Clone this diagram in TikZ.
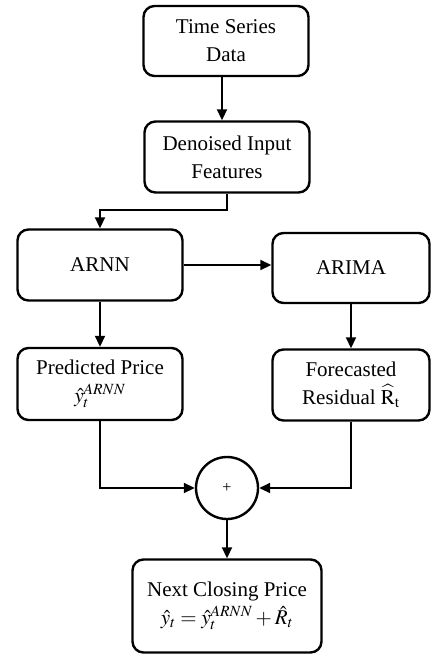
\documentclass[tikz,border=0pt]{standalone}
\usepackage{mathptmx}
\usepackage{fontspec}
\setmainfont{Liberation Serif}
\usetikzlibrary{arrows.meta}
\begin{document}
\begin{tikzpicture}[x=1pt,y=-1pt,
  box/.style={draw, line width=2.4pt, rounded corners=11pt, align=center,
    font=\fontsize{21}{28}\selectfont, inner sep=2pt},
  conn/.style={line width=1.8pt, -{Triangle[length=11pt,width=10pt]}},
  plain/.style={line width=1.8pt}]
\useasboundingbox (0,0) rectangle (432,656);
\node[box, minimum width=165pt, minimum height=70pt] (ts) at (226,41) {Time Series\\Data};
\node[box, minimum width=165pt, minimum height=71pt] (dn) at (227,157) {Denoised Input\\Features};
\node[box, minimum width=165pt, minimum height=71pt] (arnn) at (100,265) {ARNN};
\node[box, minimum width=157pt, minimum height=70pt] (arima) at (351,268) {ARIMA};
\node[box, minimum width=165pt, minimum height=72pt] (pred) at (100,384) {Predicted Price\\$\hat{y}_t^{ARNN}$};
\node[box, minimum width=157pt, minimum height=71pt] (fc) at (351,385) {Forecasted\\Residual $\widehat{\mathrm{R}}_{\mathrm{t}}$};
\node[draw, circle, line width=2.4pt, minimum size=62pt, inner sep=0pt, font=\fontsize{16}{18}\selectfont] (sum) at (227,488) {+};
\node[box, minimum width=189pt, minimum height=93pt] (out) at (227,606) {Next Closing Price\\$\hat{y}_t = \hat{y}_t^{ARNN} + \hat{R}_t$};
\coordinate (bend) at (227,210);
\draw[conn] (ts.south -| 222,0) -- (dn.north -| 222,0);
\draw[conn] (dn.south) -- (bend) -| (arnn.north);
\draw[conn] (arnn.east) -- (arnn.east -| arima.west);
\draw[conn] (arnn.south) -- (pred.north);
\draw[conn] (arima.south) -- (fc.north);
\draw[conn] (pred.south) |- (sum.west);
\draw[conn] (fc.south) |- (sum.east);
\draw[conn] (sum.south) -- (out.north);
\end{tikzpicture}
\end{document}
